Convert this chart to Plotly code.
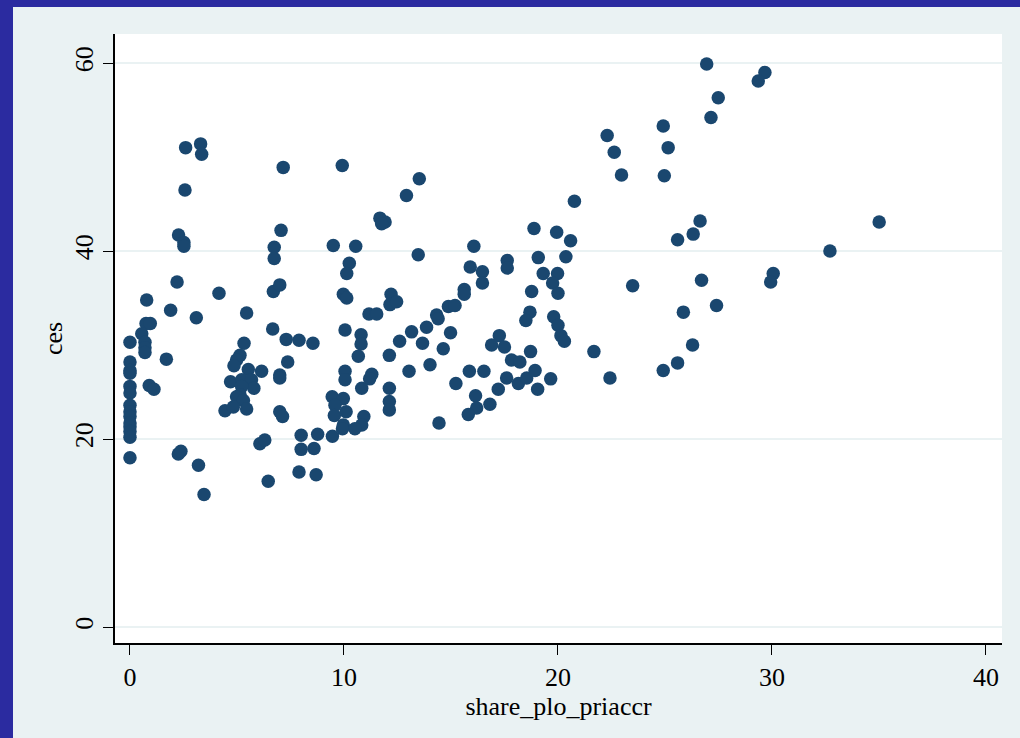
import plotly.graph_objects as go

share_plo_priaccr = [
    0, 0, 0, 0, 0, 0, 0, 0, 0, 0, 0, 0, 0, 0,
    0.78, 0.75, 0.95, 0.55, 0.7, 0.7, 0.7, 0.9, 1.12,
    1.7, 1.9, 2.2, 3.1, 4.16, 5.45,
    6.7, 7.0, 6.67, 7.3, 7.9, 8.55, 5.33, 7.37, 7.0, 7.0, 7.0, 7.13,
    5.14, 4.98, 4.86, 5.53, 6.15, 4.7, 5.22, 5.68, 5.79, 5.22, 5.14, 4.98, 5.3, 4.44, 4.83, 5.45,
    6.07, 6.3, 8.0, 8.77, 9.46, 8.0, 8.6, 7.9, 8.7, 6.46, 2.26, 2.38, 3.2, 3.46,
    9.97, 10.13, 10.05, 10.05, 10.05, 9.45, 9.97, 9.58, 9.55, 10.1, 9.97, 9.93,
    2.6, 3.3, 3.35, 7.16, 9.92, 2.57, 2.27, 2.52, 2.52, 7.06, 6.74, 6.74, 9.5,
    10.25, 10.13,
    13.52, 12.92, 11.68, 11.92, 11.76, 20.77, 10.55, 13.47, 16.07, 18.88, 19.94, 20.59,
    19.08, 20.37, 17.63, 17.63, 15.9, 16.47, 16.47, 19.31, 19.98, 19.75, 20.0, 18.77,
    18.69, 18.5, 19.8, 20.0, 20.14, 20.3,
    12.2, 12.15, 12.46, 11.17, 11.53, 14.33, 14.4, 14.88, 15.19, 15.62, 15.62,
    10.8, 10.8, 12.6, 13.16, 13.86, 13.67, 14.98, 14.64, 17.26, 16.9, 17.5,
    10.67, 12.12, 14.02, 13.04, 11.3, 11.2, 10.83, 12.12, 12.12, 12.12,
    10.93, 10.83, 10.51, 14.44,
    18.72, 17.83, 18.22, 15.86, 16.54, 15.23, 17.6, 18.15, 18.54, 18.93, 19.66, 19.05,
    17.21, 16.15, 16.2, 15.81, 16.82,
    26.95, 29.67, 29.36, 27.49, 27.15, 22.3, 24.92, 22.63, 25.15, 22.97, 24.97, 26.64,
    26.32, 25.59,
    23.49, 26.71, 30.06, 29.94, 27.41, 25.86, 26.29, 25.59, 24.92, 21.68, 22.43,
    35.01, 32.71,
]

ces = [
    30.3, 28.2, 27.3, 27.0, 25.6, 24.9, 23.6, 22.9, 22.4, 21.7, 21.3, 20.8, 20.2, 18.0,
    34.8, 32.3, 32.3, 31.2, 30.3, 29.7, 29.2, 25.7, 25.3,
    28.5, 33.7, 36.7, 32.9, 35.5, 33.4,
    35.7, 36.4, 31.7, 30.6, 30.5, 30.2, 30.2, 28.2, 26.8, 26.5, 22.9, 22.4,
    28.9, 28.4, 27.8, 27.4, 27.2, 26.1, 26.3, 26.3, 25.4, 25.6, 24.7, 24.5, 24.1, 23.0, 23.4, 23.2,
    19.5, 19.9, 20.4, 20.5, 20.3, 18.9, 19.0, 16.5, 16.2, 15.5, 18.4, 18.7, 17.2, 14.1,
    35.4, 35.0, 31.6, 27.2, 26.3, 24.5, 24.3, 23.6, 22.5, 22.9, 21.5, 21.1,
    51.0, 51.4, 50.3, 48.9, 49.1, 46.5, 41.7, 40.9, 40.5, 42.2, 40.4, 39.2, 40.6,
    38.7, 37.6,
    47.7, 45.9, 43.5, 43.1, 42.9, 45.3, 40.5, 39.6, 40.5, 42.4, 42.0, 41.1,
    39.3, 39.4, 39.0, 38.2, 38.3, 37.8, 36.6, 37.6, 37.6, 36.6, 35.5, 35.7,
    33.5, 32.6, 33.0, 32.1, 31.0, 30.4,
    35.4, 34.3, 34.6, 33.3, 33.3, 33.2, 32.8, 34.1, 34.2, 35.9, 35.4,
    31.1, 30.1, 30.4, 31.4, 31.9, 30.2, 31.3, 29.6, 31.0, 30.0, 29.8,
    28.8, 28.9, 27.9, 27.2, 26.9, 26.4, 25.4, 25.4, 24.0, 23.1,
    22.4, 21.5, 21.1, 21.7,
    29.3, 28.4, 28.2, 27.2, 27.2, 25.9, 26.5, 25.9, 26.5, 27.3, 26.4, 25.3,
    25.3, 24.6, 23.3, 22.6, 23.7,
    59.9, 59.0, 58.1, 56.3, 54.2, 52.3, 53.3, 50.5, 51.0, 48.1, 48.0, 43.2,
    41.8, 41.2,
    36.3, 36.9, 37.6, 36.7, 34.2, 33.5, 30.0, 28.1, 27.3, 29.3, 26.5,
    43.1, 40.0,
]

x_ticks = [0, 10, 20, 30, 40]
y_ticks = [0, 20, 40, 60]

W, H = 1020, 738
ML, MR, MT, MB = 115, 18, 34, 95
PW, PH = W - ML - MR, H - MT - MB

def px_x(p):
    return (p - ML) / PW

def px_y(p):
    return 1 - (p - MT) / PH

FONT = "Liberation Serif, Times New Roman, serif"
BORDER = "#2B2BA0"
BG = "#EAF2F3"
FS = 26

fig = go.Figure()
fig.add_trace(go.Scatter(
    x=share_plo_priaccr, y=ces, mode="markers",
    marker=dict(color="#1A476F", size=13.5, line=dict(width=0)),
    showlegend=False, cliponaxis=False,
))

fig.update_layout(
    width=W, height=H,
    margin=dict(l=ML, r=MR, t=MT, b=MB, pad=0),
    paper_bgcolor=BG, plot_bgcolor="white",
    font=dict(family=FONT, color="black", size=FS),
    xaxis=dict(
        range=[-0.70, 40.75], tickvals=x_ticks, ticks="outside", ticklen=10,
        tickwidth=1, tickcolor="black", showgrid=False, zeroline=False,
        showline=True, linecolor="black", linewidth=1.5,
        title=dict(text="share_plo_priaccr", standoff=0, font=dict(size=FS)),
        tickfont=dict(size=FS),
    ),
    yaxis=dict(
        range=[-1.70, 63.09], tickvals=y_ticks, ticks="outside", ticklen=10,
        tickwidth=1, tickcolor="black", showgrid=True, gridcolor=BG, gridwidth=2,
        zeroline=False, showline=True, linecolor="black", linewidth=1.5,
        tickangle=-90,
        title=dict(text="ces", standoff=0, font=dict(size=FS)),
        tickfont=dict(size=FS),
    ),
    shapes=[
        dict(type="rect", xref="paper", yref="paper", layer="below",
             x0=px_x(0), x1=px_x(13), y0=px_y(H), y1=px_y(0),
             fillcolor=BORDER, line=dict(width=0)),
        dict(type="rect", xref="paper", yref="paper", layer="below",
             x0=px_x(0), x1=px_x(W), y0=px_y(7), y1=px_y(0),
             fillcolor=BORDER, line=dict(width=0)),
    ],
)

fig.write_html("out.html", config={"displayModeBar": False},
               post_script="document.body.style.margin='0';")
